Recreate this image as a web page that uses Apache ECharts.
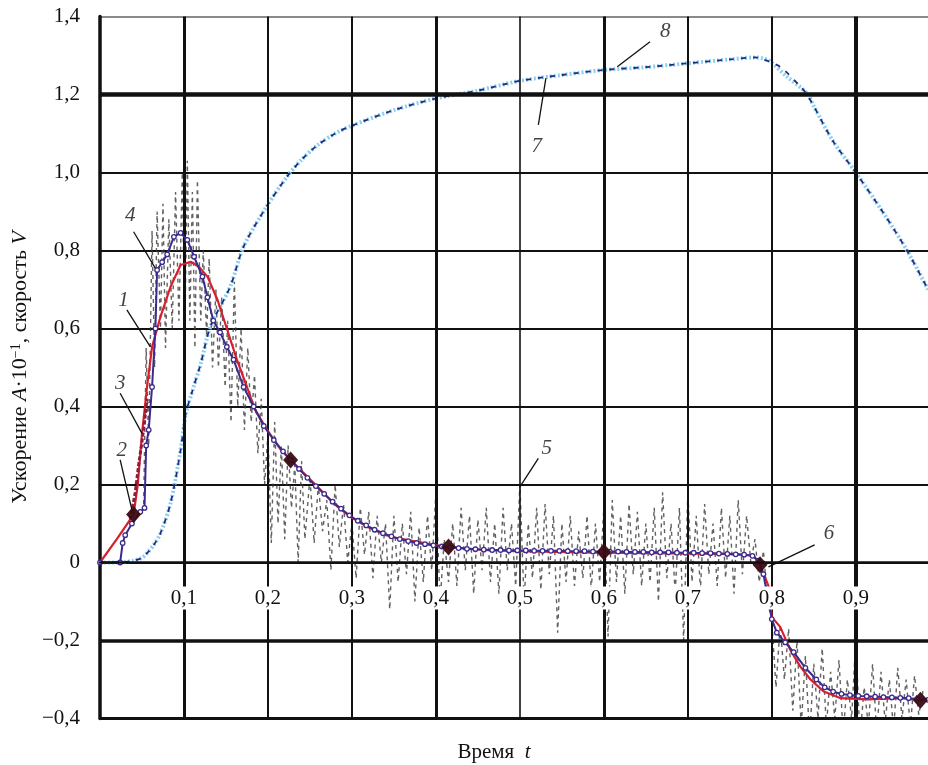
<!DOCTYPE html>
<html><head><meta charset="utf-8">
<script src="https://cdn.jsdelivr.net/npm/echarts@6/dist/echarts.min.js"></script>
<style>html,body{margin:0;padding:0;background:#fff}#c{width:928px;height:765px}</style>
</head><body><div id="c"></div>
<script>
// ---- data (t, value) ----
const curve1 = [[0,0],[0.02,0.06],[0.04,0.123],[0.045,0.2],[0.05,0.33],[0.056,0.45],[0.062,0.553],[0.072,0.63],[0.084,0.707],[0.096,0.763],[0.108,0.771],[0.118,0.758],[0.128,0.733],[0.14,0.673],[0.151,0.6],[0.163,0.52],[0.175,0.45],[0.185,0.39],[0.199,0.34],[0.215,0.29],[0.227,0.263],[0.259,0.194],[0.278,0.152],[0.298,0.117],[0.318,0.092],[0.346,0.066],[0.378,0.053],[0.397,0.045],[0.415,0.04],[0.457,0.032],[0.497,0.029],[0.575,0.026],[0.65,0.024],[0.75,0.022],[0.778,0.018],[0.786,-0.006],[0.796,-0.06],[0.80,-0.14],[0.81,-0.165],[0.822,-0.224],[0.834,-0.267],[0.846,-0.30],[0.862,-0.331],[0.882,-0.348],[0.913,-0.351],[0.953,-0.348],[0.977,-0.352],[0.986,-0.35]];
const curve2 = [[0.04,0.123],[0.227,0.263],[0.415,0.04],[0.6,0.027],[0.786,-0.006],[0.977,-0.353]];
const curve3 = [[0.036,0.11],[0.042,0.18],[0.046,0.25],[0.05,0.31],[0.053,0.36],[0.056,0.42]];
const curve4 = [[0,0],[0.024,0],[0.027,0.05],[0.03,0.07],[0.038,0.1],[0.048,0.13],[0.053,0.14],[0.055,0.3],[0.058,0.34],[0.062,0.45],[0.066,0.6],[0.068,0.75],[0.074,0.77],[0.08,0.79],[0.088,0.835],[0.096,0.845],[0.104,0.827],[0.112,0.784],[0.122,0.733],[0.128,0.68],[0.135,0.62],[0.143,0.59],[0.151,0.553],[0.159,0.52],[0.171,0.45],[0.183,0.40],[0.195,0.35],[0.207,0.314],[0.218,0.285],[0.227,0.263],[0.237,0.24],[0.247,0.217],[0.257,0.196],[0.267,0.176],[0.277,0.156],[0.287,0.138],[0.297,0.121],[0.307,0.107],[0.317,0.095],[0.327,0.084],[0.337,0.075],[0.347,0.067],[0.357,0.06],[0.367,0.055],[0.377,0.05],[0.387,0.047],[0.397,0.044],[0.407,0.041],[0.417,0.039],[0.427,0.037],[0.437,0.035],[0.447,0.034],[0.457,0.033],[0.467,0.032],[0.477,0.032],[0.487,0.031],[0.497,0.031],[0.507,0.031],[0.517,0.03],[0.527,0.03],[0.537,0.03],[0.547,0.03],[0.557,0.029],[0.567,0.029],[0.577,0.029],[0.587,0.028],[0.597,0.028],[0.607,0.028],[0.617,0.028],[0.627,0.027],[0.637,0.027],[0.647,0.027],[0.657,0.026],[0.667,0.026],[0.677,0.026],[0.687,0.025],[0.697,0.025],[0.707,0.025],[0.717,0.024],[0.727,0.024],[0.737,0.023],[0.747,0.022],[0.757,0.021],[0.767,0.02],[0.777,0.017],[0.784,0.005],[0.79,-0.03],[0.796,-0.1],[0.8,-0.145],[0.806,-0.18],[0.816,-0.205],[0.826,-0.23],[0.84,-0.27],[0.853,-0.3],[0.863,-0.32],[0.873,-0.331],[0.883,-0.337],[0.893,-0.34],[0.903,-0.342],[0.913,-0.343],[0.923,-0.344],[0.933,-0.345],[0.943,-0.346],[0.953,-0.347],[0.963,-0.348],[0.973,-0.35],[0.986,-0.352]];
const curve5 = [[0.052,0.15],[0.055,0.55],[0.058,0.3],[0.062,0.85],[0.065,0.5],[0.068,0.9],[0.072,0.6],[0.075,0.92],[0.078,0.55],[0.082,0.88],[0.086,0.6],[0.09,0.95],[0.094,0.62],[0.098,1.0],[0.101,0.58],[0.104,1.03],[0.107,0.62],[0.11,0.95],[0.113,0.55],[0.116,0.98],[0.12,0.62],[0.123,0.8],[0.127,0.58],[0.13,0.78],[0.134,0.5],[0.138,0.7],[0.141,0.5],[0.145,0.68],[0.149,0.45],[0.152,0.62],[0.156,0.36],[0.16,0.72],[0.164,0.4],[0.168,0.6],[0.172,0.34],[0.176,0.55],[0.18,0.36],[0.184,0.48],[0.188,0.28],[0.192,0.42],[0.196,0.2],[0.2,0.33],[0.204,0.05],[0.208,0.36],[0.212,0.1],[0.216,0.3],[0.22,0.06],[0.224,0.3],[0.228,0.14],[0.232,0.25],[0.236,0.0],[0.24,0.26],[0.244,0.06],[0.25,0.22],[0.255,0.05],[0.26,0.2],[0.265,0.08],[0.27,0.16],[0.275,-0.02],[0.28,0.2],[0.285,0.04],[0.29,0.15],[0.295,0.0],[0.3,0.1],[0.305,-0.04],[0.31,0.14],[0.315,0.02],[0.32,0.13],[0.325,-0.04],[0.33,0.12],[0.335,0.0],[0.34,0.1],[0.345,-0.12],[0.35,0.12],[0.355,-0.05],[0.36,0.1],[0.365,-0.03],[0.37,0.13],[0.375,-0.1],[0.38,0.09],[0.385,-0.05],[0.39,0.12],[0.395,-0.02],[0.4,0.18],[0.405,-0.1],[0.41,0.06],[0.415,-0.05],[0.42,0.1],[0.425,-0.06],[0.43,0.14],[0.435,-0.02],[0.44,0.12],[0.445,-0.08],[0.45,0.11],[0.455,-0.02],[0.46,0.14],[0.465,-0.05],[0.47,0.1],[0.475,-0.08],[0.48,0.14],[0.485,-0.02],[0.49,0.1],[0.495,-0.06],[0.5,0.2],[0.505,-0.1],[0.51,0.1],[0.515,-0.04],[0.52,0.14],[0.525,-0.07],[0.53,0.15],[0.535,-0.03],[0.54,0.12],[0.545,-0.18],[0.55,0.1],[0.555,-0.05],[0.56,0.12],[0.565,-0.06],[0.57,0.08],[0.575,-0.04],[0.58,0.12],[0.585,-0.07],[0.59,0.1],[0.595,-0.05],[0.6,0.14],[0.605,-0.19],[0.61,0.16],[0.615,-0.05],[0.62,0.12],[0.625,-0.08],[0.63,0.15],[0.635,-0.03],[0.64,0.13],[0.645,-0.06],[0.65,0.1],[0.655,-0.05],[0.66,0.14],[0.665,-0.1],[0.67,0.18],[0.675,-0.04],[0.68,0.1],[0.685,-0.08],[0.69,0.14],[0.695,-0.2],[0.7,0.18],[0.705,-0.05],[0.71,0.12],[0.715,-0.07],[0.72,0.15],[0.725,-0.03],[0.73,0.1],[0.735,-0.06],[0.74,0.14],[0.745,-0.04],[0.75,0.12],[0.755,-0.08],[0.76,0.16],[0.765,-0.03],[0.77,0.12],[0.775,0.0],[0.78,0.06],[0.785,-0.05],[0.79,0.03],[0.795,-0.1],[0.8,-0.15],[0.805,-0.32],[0.81,-0.16],[0.815,-0.3],[0.82,-0.17],[0.825,-0.38],[0.83,-0.2],[0.835,-0.42],[0.84,-0.24],[0.845,-0.45],[0.85,-0.26],[0.855,-0.4],[0.86,-0.22],[0.865,-0.42],[0.87,-0.28],[0.875,-0.4],[0.88,-0.25],[0.885,-0.44],[0.89,-0.3],[0.895,-0.4],[0.9,-0.2],[0.905,-0.45],[0.91,-0.32],[0.915,-0.42],[0.92,-0.26],[0.925,-0.44],[0.93,-0.28],[0.935,-0.41],[0.94,-0.3],[0.945,-0.43],[0.95,-0.27],[0.955,-0.4],[0.96,-0.3],[0.965,-0.42],[0.97,-0.29],[0.975,-0.39],[0.98,-0.33]];
const curve7 = [[0,0],[0.02,0],[0.04,0.005],[0.05,0.012],[0.056,0.024],[0.064,0.045],[0.072,0.075],[0.084,0.152],[0.096,0.288],[0.102,0.38],[0.11,0.44],[0.12,0.51],[0.1315,0.605],[0.155,0.707],[0.171,0.81],[0.197,0.908],[0.223,0.99],[0.241,1.035],[0.259,1.07],[0.28,1.1],[0.3,1.12],[0.35,1.16],[0.4,1.19],[0.45,1.21],[0.5,1.235],[0.55,1.25],[0.6,1.263],[0.65,1.27],[0.7,1.28],[0.75,1.29],[0.78,1.295],[0.79,1.292],[0.798,1.285],[0.818,1.246],[0.842,1.203],[0.85,1.17],[0.873,1.08],[0.9,1.0],[0.933,0.896],[0.961,0.80],[0.986,0.70]];
const curve8 = [[0,0],[0.02,0],[0.04,0.005],[0.05,0.012],[0.056,0.024],[0.064,0.045],[0.072,0.075],[0.084,0.152],[0.096,0.288],[0.102,0.38],[0.11,0.44],[0.12,0.51],[0.1315,0.605],[0.155,0.707],[0.171,0.81],[0.197,0.908],[0.223,0.99],[0.241,1.035],[0.259,1.07],[0.28,1.1],[0.3,1.12],[0.35,1.16],[0.4,1.19],[0.45,1.21],[0.5,1.235],[0.55,1.25],[0.6,1.263],[0.65,1.27],[0.7,1.28],[0.75,1.29],[0.78,1.295],[0.79,1.29],[0.81,1.271],[0.836,1.216],[0.842,1.199],[0.85,1.17],[0.873,1.08],[0.9,1.0],[0.933,0.896],[0.961,0.80],[0.986,0.70]];
const noteText = ['1','2','3','4','5','6','7','8'];
const notePos = [[0.028,0.673],[0.026,0.288],[0.024,0.46],[0.036,0.891],[0.532,0.293],[0.868,0.075],[0.52,1.066],[0.673,1.361]];
const noteLeaders = [[[0.032,0.648],[0.060,0.553]],[[0.024,0.263],[0.038,0.135]],[[0.024,0.434],[0.050,0.331]],[[0.040,0.848],[0.066,0.754]],[[0.522,0.267],[0.5,0.194]],[[0.851,0.045],[0.796,-0.011]],[[0.522,1.122],[0.531,1.242]],[[0.655,1.335],[0.616,1.271]]];
const xLabelTicks = [0.1,0.2,0.3,0.4,0.5,0.6,0.7,0.8,0.9];
const xGridWidths = [3,2,2,3,1.6,3,2,2,4];
const yLabelTicks = [-0.4,-0.2,0,0.2,0.4,0.6,0.8,1.0,1.2,1.4];

const FF = '"Liberation Serif","Times New Roman",serif';
const yFmt = v => { if (Math.abs(v) < 1e-9) return '0'; const s = Math.abs(v).toFixed(1).replace('.', ','); return v < 0 ? '\u2212' + s : s; };
const xFmt = v => xLabelTicks.some(t => Math.abs(t - v) < 1e-6) ? v.toFixed(1).replace('.', ',') : '';

const chart = echarts.init(document.getElementById('c'), null, {renderer: 'canvas'});
const ySplitColors = yLabelTicks.map(v => v > 1.3 ? '#8a8a8a' : '#111');

// plot geometry: main grid spans y = -0.4..1.4; label grid spans y = 0..1.4 so its bottom edge is the zero line
const G = {left: 100, right: 0, top: 16.5, bottom: 46.5};
const plotH = 765 - G.top - G.bottom;
const zeroFromBottom = G.bottom + plotH * (0 - (-0.4)) / (1.4 - (-0.4));

const gridLines = [
  {yAxis: 1.2, lineStyle: {width: 4.5, color: '#111', type: 'solid'}},
  {yAxis: -0.2, lineStyle: {width: 3.5, color: '#111', type: 'solid'}},
  {yAxis: -0.4, lineStyle: {width: 3, color: '#111', type: 'solid'}}
].concat(xLabelTicks.map((t, i) => ({xAxis: t, lineStyle: {width: xGridWidths[i], color: '#111', type: 'solid'}})));

const series = [
  { type: 'line', name: 'grid', data: [], z: 1, silent: true,
    markLine: { silent: true, symbol: 'none', label: {show: false}, data: gridLines } },
  { type: 'line', name: '5', data: curve5, z: 2, symbol: 'none', silent: true,
    lineStyle: {color: '#3a3a3a', width: 1.4, type: [4, 4], opacity: 0.8} },
  { type: 'line', name: '7', data: curve7, z: 3, symbol: 'none', silent: true, smooth: 0.3,
    lineStyle: {color: '#8fcfee', width: 4, type: [2, 2]} },
  { type: 'line', name: '8', data: curve8, z: 4, symbol: 'none', silent: true, smooth: 0.3,
    lineStyle: {color: '#1f2a7a', width: 1.8, type: [5, 7]} },
  { type: 'line', name: '1', data: curve1, z: 5, symbol: 'none', silent: true,
    lineStyle: {color: '#d8202c', width: 2.2} },
  { type: 'line', name: '3', data: curve3, z: 5, symbol: 'none', silent: true,
    lineStyle: {color: '#8e1c3c', width: 3, type: [4, 2]} },
  { type: 'line', name: '4', data: curve4, z: 6, symbol: 'circle', symbolSize: 4.5, showAllSymbol: true, silent: true,
    itemStyle: {color: '#fff', borderColor: '#3b2b8e', borderWidth: 1.3},
    lineStyle: {color: '#3b2b8e', width: 2} },
  { type: 'scatter', name: '2', data: curve2, z: 7, symbol: 'diamond', symbolSize: [15, 17], silent: true,
    itemStyle: {color: '#3a0c14', opacity: 0.95} }
];
noteLeaders.forEach((seg, i) => {
  series.push({ type: 'line', name: 'leader' + noteText[i], data: seg, z: 8, symbol: 'none', silent: true,
    lineStyle: {color: '#111', width: 1.3} });
});
series.push({ type: 'scatter', name: 'notes', z: 9, symbolSize: 0, silent: true,
  data: notePos.map((p, i) => ({value: p, name: noteText[i]})),
  label: {show: true, position: 'inside', formatter: p => p.name, fontFamily: FF, fontStyle: 'italic', fontSize: 21, color: '#111'} });

chart.setOption({
  animation: false,
  backgroundColor: '#fff',
  grid: [
    {left: G.left, right: G.right, top: G.top, bottom: G.bottom, containLabel: false},
    {left: G.left, right: G.right, top: G.top, bottom: zeroFromBottom, containLabel: false}
  ],
  xAxis: [
    { type: 'value', gridIndex: 0, min: 0, max: 0.986, interval: 0.1, z: 0,
      axisLine: {show: false, onZero: false}, axisTick: {show: false}, axisLabel: {show: false}, splitLine: {show: false} },
    { type: 'value', gridIndex: 1, min: 0, max: 0.986, interval: 0.1, z: 10, position: 'bottom',
      axisLine: {show: true, onZero: false, lineStyle: {color: '#111', width: 2.5}},
      axisTick: {show: false}, splitLine: {show: false},
      axisLabel: {formatter: xFmt, fontFamily: FF, fontSize: 21, color: '#111', margin: 24,
        backgroundColor: '#fff', padding: [1, 3], showMaxLabel: false, showMinLabel: false} }
  ],
  yAxis: [
    { type: 'value', gridIndex: 0, min: -0.4, max: 1.4, interval: 0.2, z: 0,
      axisLine: {show: true, onZero: false, lineStyle: {color: '#111', width: 3.5}},
      axisTick: {show: false},
      axisLabel: {formatter: yFmt, fontFamily: FF, fontSize: 21, color: '#111', margin: 20},
      splitLine: {show: true, lineStyle: {color: ySplitColors, width: 2}},
      name: '{n|Ускорение }{i|A}{n|·10}{s|\u22121}{n|, скорость }{i|V}',
      nameLocation: 'middle', nameGap: 66, nameRotate: 90,
      nameTextStyle: {fontFamily: FF, fontSize: 22, color: '#111',
        rich: { n: {fontFamily: FF, fontSize: 22, color: '#111'},
                i: {fontFamily: FF, fontSize: 22, fontStyle: 'italic', color: '#111'},
                s: {fontFamily: FF, fontSize: 14, color: '#111', verticalAlign: 'top', lineHeight: 12} } } },
    { type: 'value', gridIndex: 1, min: 0, max: 1.4, show: false }
  ],
  graphic: [{ type: 'text', x: 494, y: 752, z: 20,
    style: { text: '{n|Время  }{i|t}', align: 'center', verticalAlign: 'middle',
      rich: { n: {fontFamily: FF, fontSize: 21, fill: '#111', color: '#111'},
              i: {fontFamily: FF, fontSize: 21, fontStyle: 'italic', fill: '#111', color: '#111'} } } }],
  series: series
});
</script></body></html>
